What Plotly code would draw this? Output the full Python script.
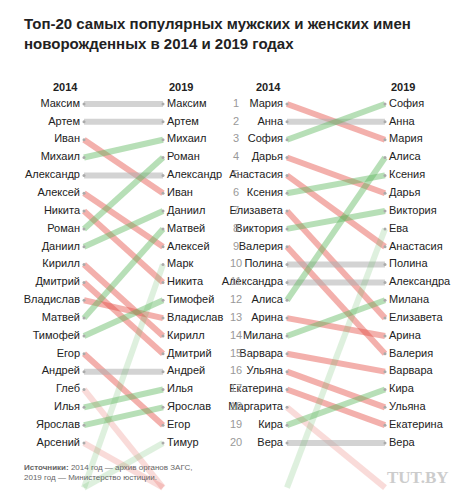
import plotly.graph_objects as go

male_2014 = ['Максим', 'Артем', 'Иван', 'Михаил', 'Александр', 'Алексей', 'Никита', 'Роман', 'Даниил', 'Кирилл',
             'Дмитрий', 'Владислав', 'Матвей', 'Тимофей', 'Егор', 'Андрей', 'Глеб', 'Илья', 'Ярослав', 'Арсений']
male_2019 = ['Максим', 'Артем', 'Михаил', 'Роман', 'Александр', 'Иван', 'Даниил', 'Матвей', 'Алексей', 'Марк',
             'Никита', 'Тимофей', 'Владислав', 'Кирилл', 'Дмитрий', 'Андрей', 'Илья', 'Ярослав', 'Егор', 'Тимур']
female_2014 = ['Мария', 'Анна', 'София', 'Дарья', 'Анастасия', 'Ксения', 'Елизавета', 'Виктория', 'Валерия', 'Полина',
               'Александра', 'Алиса', 'Арина', 'Милана', 'Варвара', 'Ульяна', 'Екатерина', 'Маргарита', 'Кира', 'Вера']
female_2019 = ['София', 'Анна', 'Мария', 'Алиса', 'Ксения', 'Дарья', 'Виктория', 'Ева', 'Анастасия', 'Полина',
               'Александра', 'Милана', 'Елизавета', 'Арина', 'Валерия', 'Варвара', 'Кира', 'Ульяна', 'Екатерина', 'Вера']
ranks = list(range(1, 21))
OUT = 22.5  # rank used for names outside the top-20

RED = 'rgba(228,80,70,0.45)'
GREEN = 'rgba(95,185,95,0.45)'
GREY = 'rgba(175,175,175,0.55)'

fig = go.Figure()


def slope(names_a, names_b, xa, xb):
    all_names = list(dict.fromkeys(names_a + names_b))
    for n in all_names:
        ra = names_a.index(n) + 1 if n in names_a else OUT
        rb = names_b.index(n) + 1 if n in names_b else OUT
        col = GREY if ra == rb else (GREEN if rb < ra else RED)
        op = 0.45 if (ra == OUT or rb == OUT) else 1
        fig.add_trace(go.Scatter(x=[xa, xb], y=[ra, rb], mode='lines', opacity=op,
                                 line=dict(color=col, width=6), hoverinfo='skip', showlegend=False))
    for names, x in ((names_a, xa), (names_b, xb)):
        fig.add_trace(go.Scatter(x=[x] * 20, y=ranks, mode='markers', marker=dict(color='#aaa', size=3),
                                 hoverinfo='skip', showlegend=False))
    fig.add_trace(go.Scatter(x=[xa - 4] * 20, y=ranks, mode='text', text=names_a, textposition='middle left',
                             textfont=dict(size=11, color='#222'), hoverinfo='skip', showlegend=False))
    fig.add_trace(go.Scatter(x=[xb + 4] * 20, y=ranks, mode='text', text=names_b, textposition='middle right',
                             textfont=dict(size=11, color='#222'), hoverinfo='skip', showlegend=False))


slope(male_2014, male_2019, 85, 164)
slope(female_2014, female_2019, 288, 386)

fig.add_trace(go.Scatter(x=[237] * 20, y=ranks, mode='text', text=[str(r) for r in ranks],
                         textfont=dict(size=11, color='#999'), hoverinfo='skip', showlegend=False))

for x, t, anc in ((81, '2014', 'right'), (168, '2019', 'left'), (284, '2014', 'right'), (390, '2019', 'left')):
    fig.add_annotation(x=x, y=0.05, text='<b>' + t + '</b>', showarrow=False, xanchor=anc,
                       font=dict(size=11, color='#222'))

fig.add_annotation(xref='paper', yref='paper', x=0.03, y=0.99, xanchor='left', yanchor='top', align='left',
                   text='<b>Топ-20 самых популярных мужских и женских имен<br>новорожденных в 2014 и 2019 годах</b>',
                   showarrow=False, font=dict(size=15, color='#222'))
fig.add_annotation(xref='paper', yref='paper', x=0.03, y=0.1, xanchor='left', yanchor='top', align='left',
                   text='<b>Источники:</b> 2014 год — архив органов ЗАГС,<br>2019 год — Министерство юстиции.',
                   showarrow=False, font=dict(size=8, color='#666'))
fig.add_annotation(xref='paper', yref='paper', x=0.935, y=0.09, xanchor='right', yanchor='top',
                   text='<b>TUT.BY</b>', showarrow=False, font=dict(size=17, color='#ccc', family='Arial Black'))

fig.update_layout(
    width=474, height=503, margin=dict(l=0, r=0, t=0, b=0),
    plot_bgcolor='white', paper_bgcolor='white',
    font=dict(family='Arial, Liberation Sans, sans-serif'),
    xaxis=dict(range=[9, 483], visible=False, fixedrange=True),
    yaxis=dict(range=[23.81, -4.381], visible=False, fixedrange=True),
)

fig.write_html('out.html')
